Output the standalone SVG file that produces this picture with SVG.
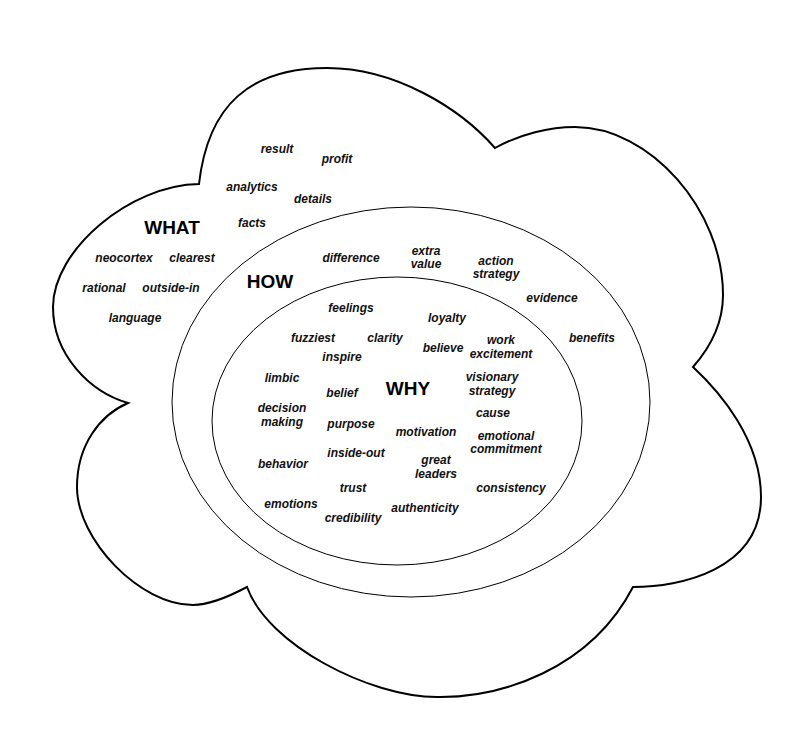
<svg xmlns="http://www.w3.org/2000/svg" width="792" height="734" viewBox="0 0 792 734">
<style>
.shape{fill:none;stroke:#000}
.cloud{stroke-width:2}
.ring{stroke-width:1}
.w{font-family:"Liberation Sans",Arial,Helvetica,sans-serif;font-size:12px;font-weight:bold;font-style:italic;fill:#111;text-anchor:middle}
.h{font-family:"Liberation Sans",Arial,Helvetica,sans-serif;font-size:19px;font-weight:bold;fill:#000;text-anchor:middle}
</style>
<rect width="792" height="734" fill="#fff"/>
<g id="what">
<path class="shape cloud" d="M199,184 C208,105 250,68 327,68 C395,68 460,108 495,148 C520,134 550,127 575,127 C650,127 723,210 723,295 C723,325 708,350 693,367 C720,392 761,440 761,497 C761,570 680,587 633,587 C590,670 500,698 437,697 C370,697 268,645 247,587 C230,596 210,605 193,605 C140,605 77,540 77,487 C77,445 100,415 128,403 C90,392 53,355 53,307 C53,250 130,185 199,184 Z"/>
<text class="h" x="172" y="234">WHAT</text>
<text class="w" x="277" y="153">result</text>
<text class="w" x="337" y="163">profit</text>
<text class="w" x="252" y="191">analytics</text>
<text class="w" x="313" y="203">details</text>
<text class="w" x="252" y="227">facts</text>
<text class="w" x="124" y="262">neocortex</text>
<text class="w" x="192" y="262">clearest</text>
<text class="w" x="104" y="292">rational</text>
<text class="w" x="171" y="292">outside-in</text>
<text class="w" x="135" y="322">language</text>
</g>
<g id="how">
<ellipse class="shape ring" cx="411" cy="402" rx="239" ry="195"/>
<text class="h" x="270" y="288">HOW</text>
<text class="w" x="351" y="262">difference</text>
<text class="w" x="426" y="255">extra<tspan x="426" dy="13">value</tspan></text>
<text class="w" x="496" y="265">action<tspan x="496" dy="13">strategy</tspan></text>
<text class="w" x="552" y="302">evidence</text>
<text class="w" x="592" y="342">benefits</text>
</g>
<g id="why">
<ellipse class="shape ring" cx="397" cy="421" rx="185" ry="144"/>
<text class="h" x="408" y="395">WHY</text>
<text class="w" x="351" y="312">feelings</text>
<text class="w" x="447" y="322">loyalty</text>
<text class="w" x="313" y="342">fuzziest</text>
<text class="w" x="385" y="342">clarity</text>
<text class="w" x="443" y="352">believe</text>
<text class="w" x="501" y="344">work<tspan x="501" dy="14">excitement</tspan></text>
<text class="w" x="342" y="361">inspire</text>
<text class="w" x="282" y="382">limbic</text>
<text class="w" x="342" y="397">belief</text>
<text class="w" x="492" y="381">visionary<tspan x="492" dy="14">strategy</tspan></text>
<text class="w" x="493" y="417">cause</text>
<text class="w" x="282" y="412">decision<tspan x="282" dy="14">making</tspan></text>
<text class="w" x="351" y="428">purpose</text>
<text class="w" x="426" y="436">motivation</text>
<text class="w" x="506" y="440">emotional<tspan x="506" dy="13">commitment</tspan></text>
<text class="w" x="356" y="457">inside-out</text>
<text class="w" x="283" y="468">behavior</text>
<text class="w" x="436" y="464">great<tspan x="436" dy="14">leaders</tspan></text>
<text class="w" x="511" y="492">consistency</text>
<text class="w" x="353" y="492">trust</text>
<text class="w" x="291" y="508">emotions</text>
<text class="w" x="425" y="512">authenticity</text>
<text class="w" x="353" y="522">credibility</text>
</g>
<g id="connectors"/>
</svg>
